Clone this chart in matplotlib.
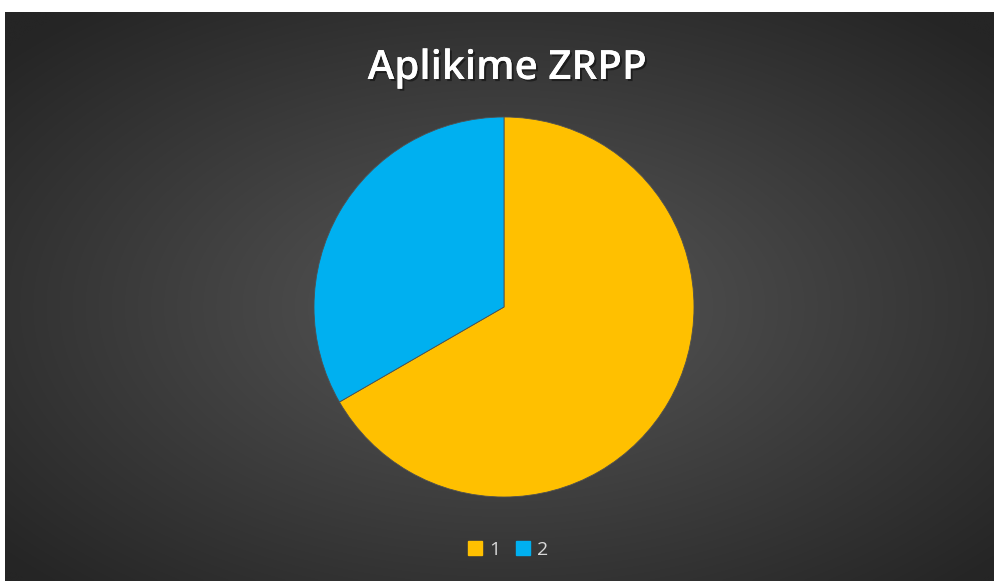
import numpy as np
import matplotlib
matplotlib.use("Agg")
import matplotlib.pyplot as plt
import matplotlib.patheffects as pe

labels = ["1", "2"]
values = [2, 1]
colors = ["#FFC000", "#00B0F0"]
title = "Aplikime ZRPP"

W, H = 995, 581
fig = plt.figure(figsize=(W / 100, H / 100), dpi=100, facecolor="white")

# background panel with radial gradient
bx0, by_top = 5, 12
bg = fig.add_axes([bx0 / W, 0, (W - bx0) / W, (H - by_top) / H])
bg.set_axis_off()
nx, ny = 400, 230
xx, yy = np.meshgrid(np.linspace(-1, 1, nx), np.linspace(-1, 1, ny))
cy = (307 - by_top) / (H - by_top) * 2 - 1
cx = (504 - bx0) / (W - bx0) * 2 - 1
d = np.sqrt(((xx - cx) / 1.0) ** 2 + ((yy - cy) / 1.0) ** 2)
d = np.clip(d / 1.35, 0, 1)
c_in = np.array([0x58, 0x58, 0x58]) / 255
c_out = np.array([0x25, 0x25, 0x25]) / 255
img = c_in[None, None, :] * (1 - d[..., None]) + c_out[None, None, :] * d[..., None]
bg.imshow(img, extent=[0, 1, 0, 1], aspect="auto", origin="upper", interpolation="bicubic")
bg.set_xlim(0, 1)
bg.set_ylim(0, 1)

# pie
r = 190
pcx, pcy = 504, 307
ax = fig.add_axes([(pcx - r) / W, (H - pcy - r) / H, 2 * r / W, 2 * r / H])
ax.pie(values, colors=colors, startangle=90, counterclock=False, radius=1,
       wedgeprops=dict(linewidth=0.6, edgecolor="#505050"))
ax.set_xlim(-1, 1)
ax.set_ylim(-1, 1)
ax.set_axis_off()

# title
fig.text(507 / W, 1 - 69 / H, title, ha="center", va="center", color="white",
         fontsize=29, fontweight="semibold", family="Open Sans",
         path_effects=[pe.withSimplePatchShadow(offset=(1.5, -1.5), shadow_rgbFace="black", alpha=0.45), pe.Normal()])

# legend
leg = fig.legend(handles=[plt.Rectangle((0, 0), 1, 1, color=c) for c in colors], labels=labels,
                 loc="center", bbox_to_anchor=(508 / W, 1 - 550 / H), ncol=2, frameon=False,
                 handlelength=0.75, handleheight=0.75, handletextpad=0.35,
                 columnspacing=0.8, labelcolor="#D9D9D9",
                 prop=dict(family="Open Sans", size=14))

fig.savefig("out.png", dpi=100, facecolor="white")
